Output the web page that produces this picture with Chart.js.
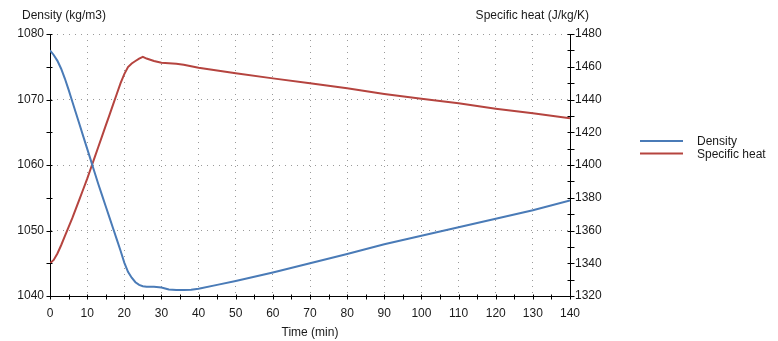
<!DOCTYPE html>
<html>
<head>
<meta charset="utf-8">
<script src="https://cdn.jsdelivr.net/npm/chart.js@4.4.1/dist/chart.umd.min.js"></script>
<style>
  html, body { margin: 0; padding: 0; background: #ffffff; }
  #wrap { position: relative; width: 778px; height: 341px; }
</style>
</head>
<body>
<div id="wrap"><canvas id="c" width="778" height="341"></canvas></div>
<script>
// ---- Data ----
const timeMin = [0,1,2,3,4,5,6,7,8,9,10,11,12,13,14,15,16,17,18,19,20,21,22,23,24,25,26,28,30,32,34,36,38,40,45,50,60,70,80,90,100,110,120,130,140];
const density = [1077.5,1076.8,1075.9,1074.7,1073.2,1071.5,1069.7,1067.9,1066.1,1064.3,1062.5,1060.7,1058.9,1057.1,1055.4,1053.7,1052.0,1050.3,1048.6,1046.9,1045.1,1043.7,1042.8,1042.1,1041.7,1041.5,1041.4,1041.4,1041.3,1041.0,1040.9,1040.9,1040.95,1041.1,1041.7,1042.3,1043.6,1045.0,1046.4,1047.9,1049.2,1050.5,1051.8,1053.1,1054.6];
const specificHeat = [1340,1342,1346,1351,1356.5,1362,1367.5,1373.5,1379.5,1385.5,1391.5,1398,1404.5,1411,1417.5,1424,1430.5,1437,1443.5,1450,1455.5,1459.8,1462,1463.5,1465,1466,1465,1463.5,1462.5,1462.2,1461.8,1461.2,1460.3,1459.4,1457.7,1456.0,1452.9,1449.9,1446.8,1443.4,1440.5,1437.7,1434.4,1431.6,1428.5];
const seriesNames = ['Density', 'Specific heat'];
const xTitle = 'Time (min)';
const yLeftTitle = 'Density (kg/m3)';
const yRightTitle = 'Specific heat (J/kg/K)';

const BLUE = '#4a7bb7';
const RED = '#b5443f';
const GRID = '#9a9a9a';
const FONT = "'Liberation Sans', Arial, sans-serif";

Chart.defaults.font.family = FONT;
Chart.defaults.font.size = 12;
Chart.defaults.color = '#1a1a1a';

const overlay = {
  id: 'overlay',
  afterDraw(chart) {
    const ctx = chart.ctx;
    const xs = chart.scales.x, yl = chart.scales.y, yr = chart.scales.y2;
    ctx.save();
    ctx.strokeStyle = '#000';
    ctx.lineWidth = 1;
    const seg = (x1, y1, x2, y2) => { ctx.beginPath(); ctx.moveTo(x1, y1); ctx.lineTo(x2, y2); ctx.stroke(); };
    const ax = Math.round(xs.top) + 0.5;
    xs.ticks.forEach(t => { const p = Math.round(xs.getPixelForValue(t.value)) + 0.5; seg(p, ax - 2, p, ax + 3); });
    const al = Math.round(yl.right) - 0.5;
    yl.ticks.forEach(t => { const p = Math.round(yl.getPixelForValue(t.value)) + 0.5; seg(al - 3, p, al + 3, p); });
    const ar = Math.round(yr.left) + 0.5;
    yr.ticks.forEach(t => { const p = Math.round(yr.getPixelForValue(t.value)) + 0.5; seg(ar - 3, p, ar + 4, p); });

    // titles
    ctx.fillStyle = '#1a1a1a';
    ctx.font = '12px ' + FONT;
    ctx.textBaseline = 'middle';
    ctx.textAlign = 'left';
    ctx.fillText(yLeftTitle, 22, 16);
    ctx.textAlign = 'right';
    ctx.fillText(yRightTitle, 589, 16);
    ctx.textAlign = 'center';
    ctx.fillText(xTitle, (xs.left + xs.right) / 2, 333);

    // legend
    const ys = [141, 153.5];
    ctx.textAlign = 'left';
    chart.data.datasets.forEach((d, i) => {
      ctx.strokeStyle = d.borderColor;
      ctx.lineWidth = 2;
      seg(640, ys[i], 683, ys[i]);
      ctx.fillStyle = '#1a1a1a';
      ctx.fillText(d.label, 697, ys[i] + 1);
    });
    ctx.restore();
  }
};

const chart = new Chart(document.getElementById('c'), {
  type: 'line',
  data: {
    datasets: [
      {
        label: seriesNames[0],
        data: timeMin.map((t, i) => ({ x: t, y: density[i] })),
        borderColor: BLUE,
        backgroundColor: BLUE,
        borderWidth: 2,
        pointRadius: 0,
        tension: 0,
        yAxisID: 'y'
      },
      {
        label: seriesNames[1],
        data: timeMin.map((t, i) => ({ x: t, y: specificHeat[i] })),
        borderColor: RED,
        backgroundColor: RED,
        borderWidth: 2,
        pointRadius: 0,
        tension: 0,
        yAxisID: 'y2'
      }
    ]
  },
  options: {
    responsive: false,
    animation: false,
    layout: { padding: { top: 34, left: 0, right: 0, bottom: 0 } },
    plugins: { legend: { display: false }, tooltip: { enabled: false } },
    scales: {
      x: {
        type: 'linear',
        min: 0, max: 140,
        afterFit: s => { s.height = 45; },
        border: { display: true, color: '#000', width: 1, dash: [1, 5] },
        grid: {
          drawTicks: false,
          color: c => (c.tick && c.tick.value % 10 === 0 && c.tick.value > 0 && c.tick.value < 140) ? GRID : 'rgba(0,0,0,0)',
          lineWidth: 1
        },
        ticks: {
          stepSize: 5,
          padding: 10,
          maxRotation: 0,
          autoSkip: false,
          callback: v => (v % 10 === 0 ? String(v) : '')
        }
      },
      y: {
        position: 'left',
        min: 1040, max: 1080,
        afterFit: s => { s.width = 50; },
        border: { display: true, color: '#000', width: 1, dash: [1, 5] },
        grid: {
          drawTicks: false,
          color: c => (c.tick && c.tick.value % 10 === 0 && c.tick.value > 1040) ? GRID : 'rgba(0,0,0,0)',
          lineWidth: 1
        },
        ticks: {
          stepSize: 5,
          padding: 6,
          autoSkip: false,
          callback: v => (v % 10 === 0 ? String(v) : '')
        }
      },
      y2: {
        position: 'right',
        min: 1320, max: 1480,
        afterFit: s => { s.width = 208; },
        border: { display: true, color: '#000', width: 1 },
        grid: { drawTicks: false, drawOnChartArea: false },
        ticks: {
          stepSize: 10,
          padding: 5,
          autoSkip: false,
          callback: v => (v % 20 === 0 ? String(v) : '')
        }
      }
    }
  },
  plugins: [overlay]
});
</script>
</body>
</html>
